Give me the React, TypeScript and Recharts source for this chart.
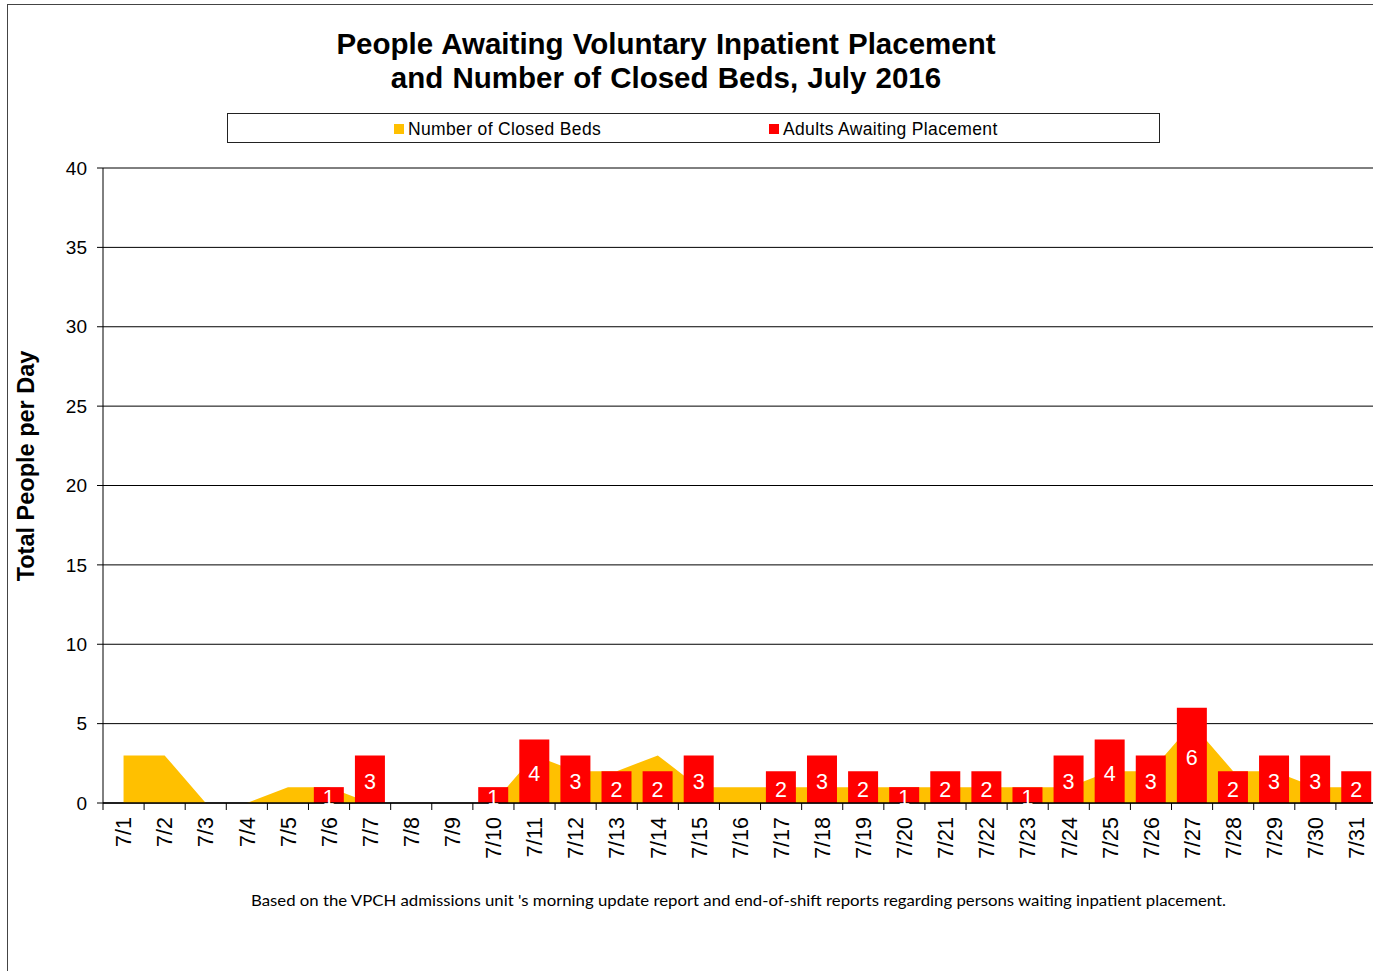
import {
  ComposedChart,
  Area,
  Bar,
  XAxis,
  YAxis,
  CartesianGrid,
  LabelList,
} from "recharts";

const days = [
  "7/1", "7/2", "7/3", "7/4", "7/5", "7/6", "7/7", "7/8", "7/9", "7/10",
  "7/11", "7/12", "7/13", "7/14", "7/15", "7/16", "7/17", "7/18", "7/19", "7/20",
  "7/21", "7/22", "7/23", "7/24", "7/25", "7/26", "7/27", "7/28", "7/29", "7/30", "7/31",
];

const closedBeds = [
  3, 3, 0, 0, 1, 1, 0, 0, 0, 0,
  3, 2, 2, 3, 1, 1, 1, 1, 1, 1,
  1, 1, 1, 1, 2, 2, 5, 2, 2, 1, 1,
];

const adultsAwaiting = [
  null, null, null, null, null, 1, 3, null, null, 1,
  4, 3, 2, 2, 3, null, 2, 3, 2, 1,
  2, 2, 1, 3, 4, 3, 6, 2, 3, 3, 2,
];

const yTicks = [0, 5, 10, 15, 20, 25, 30, 35, 40];

const titleLines = [
  "People Awaiting Voluntary Inpatient Placement",
  "and Number of Closed Beds, July 2016",
];
const yTitle = "Total People per Day";
const footnote =
  "Based on the VPCH admissions unit 's morning update report and end-of-shift reports regarding persons waiting inpatient placement.";

const BEDS_COLOR = "#FFC000";
const ADULTS_COLOR = "#FF0000";
const FONT = '"Liberation Sans", Arial, sans-serif';

// plot runs a few px past the right edge of the picture, as in the original
const CHART_W = 1377;
const CHART_H = 971;
const PLOT_LEFT = 103;
const PLOT_W = CHART_W - PLOT_LEFT;
const BAND = PLOT_W / days.length;

const data = days.map((day, i) => ({
  day,
  closedBeds: closedBeds[i],
  adults: adultsAwaiting[i],
}));

function DayTick(props: any) {
  const { x, y, payload } = props;
  const bx = x - BAND / 2;
  return (
    <g>
      <line x1={bx} y1={y - 7} x2={bx} y2={y} stroke="#000" strokeWidth={1} />
      <text
        transform={`translate(${x},${y + 7}) rotate(-90)`}
        textAnchor="end"
        dy="0.36em"
        fontSize={21.5}
        fontFamily={FONT}
        fill="#000"
      >
        {payload.value}
      </text>
    </g>
  );
}

export default function App() {
  return (
    <div
      style={{
        position: "absolute",
        left: 0,
        top: 0,
        width: 1373,
        height: CHART_H,
        background: "#fff",
        overflow: "hidden",
        fontFamily: FONT,
      }}
    >
      {/* outer frame */}
      <div
        style={{
          position: "absolute",
          left: 7,
          top: 4,
          width: CHART_W,
          height: CHART_H,
          borderTop: "1.5px solid #444",
          borderLeft: "1.5px solid #444",
        }}
      />

      <div
        style={{
          position: "absolute",
          left: 0,
          top: 27,
          width: 1332,
          textAlign: "center",
          fontWeight: "bold",
          fontSize: 29.5,
          wordSpacing: 1,
          lineHeight: "34px",
          color: "#000",
        }}
      >
        {titleLines.map((t) => (
          <div key={t}>{t}</div>
        ))}
      </div>

      {/* legend */}
      <div
        style={{
          position: "absolute",
          left: 227,
          top: 113,
          width: 933,
          height: 30,
          boxSizing: "border-box",
          border: "1px solid #222",
          fontSize: 17.5,
          letterSpacing: 0.35,
          color: "#000",
        }}
      >
        <div style={{ position: "absolute", left: 166, top: 1, lineHeight: "28px", display: "flex", alignItems: "center" }}>
          <span style={{ width: 10, height: 10, background: BEDS_COLOR, marginRight: 4, display: "inline-block" }} />
          Number of Closed Beds
        </div>
        <div style={{ position: "absolute", left: 541, top: 1, lineHeight: "28px", display: "flex", alignItems: "center" }}>
          <span style={{ width: 10, height: 10, background: ADULTS_COLOR, marginRight: 4, display: "inline-block" }} />
          Adults Awaiting Placement
        </div>
      </div>

      <div
        style={{
          position: "absolute",
          left: 26 - 150,
          top: 466 - 15,
          width: 300,
          height: 30,
          lineHeight: "30px",
          textAlign: "center",
          transform: "rotate(-90deg)",
          fontWeight: "bold",
          fontSize: 23.5,
          color: "#000",
        }}
      >
        {yTitle}
      </div>

      <div style={{ position: "absolute", left: 0, top: 0 }}>
        <ComposedChart
          width={CHART_W}
          height={CHART_H}
          data={data}
          margin={{ top: 168, right: 0, bottom: 0, left: 3 }}
          barCategoryGap="13%"
        >
          <CartesianGrid vertical={false} stroke="#000" strokeWidth={1} />
          <XAxis
            dataKey="day"
            height={168}
            interval={0}
            axisLine={{ stroke: "#000", strokeWidth: 1.5 }}
            tickLine={false}
            tickSize={7}
            tickMargin={0}
            tick={<DayTick />}
          />
          <YAxis
            width={100}
            domain={[0, 40]}
            ticks={yTicks}
            interval={0}
            axisLine={{ stroke: "#000", strokeWidth: 1 }}
            tickLine={{ stroke: "#000" }}
            tickSize={6}
            tickMargin={10}
            tick={{ fill: "#000", fontSize: 19, fontFamily: FONT }}
          />
          <Area
            type="linear"
            dataKey="closedBeds"
            name="Number of Closed Beds"
            stroke="none"
            fill={BEDS_COLOR}
            fillOpacity={1}
            isAnimationActive={false}
          />
          <Bar
            dataKey="adults"
            name="Adults Awaiting Placement"
            fill={ADULTS_COLOR}
            isAnimationActive={false}
          >
            <LabelList
              dataKey="adults"
              position="center"
              fill="#fff"
              fontSize={21.5}
              fontFamily={FONT}
              dy={2}
            />
          </Bar>
        </ComposedChart>
      </div>

      <svg
        width={1373}
        height={40}
        style={{ position: "absolute", left: 0, top: 880 }}
      >
        <text
          x={251}
          y={26}
          textLength={975}
          lengthAdjust="spacingAndGlyphs"
          fontSize={15}
          fontFamily="Lato, 'Open Sans', sans-serif"
          fill="#000"
        >
          {footnote}
        </text>
      </svg>
    </div>
  );
}
